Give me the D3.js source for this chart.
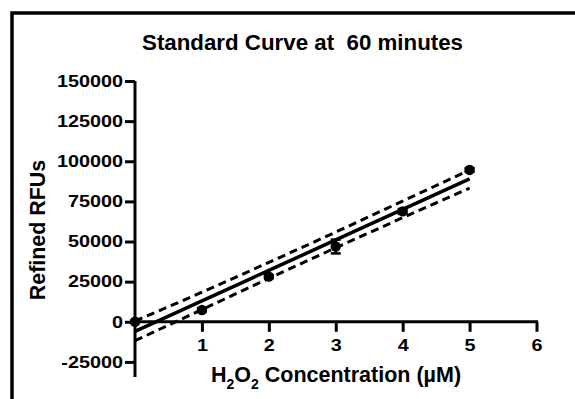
<!DOCTYPE html>
<html>
<head>
<meta charset="utf-8">
<script src="https://cdn.jsdelivr.net/npm/d3@7"></script>
<style>
  html, body { margin: 0; padding: 0; background: #fff; }
  svg { display: block; }
  text { font-family: "Liberation Sans", Arial, Helvetica, sans-serif; font-weight: bold; fill: #000; }
</style>
</head>
<body>
<svg id="chart" width="575" height="399"></svg>
<script>
// ---- data ----
const concentrations = [0, 1, 2, 3, 4, 5];            // H2O2 µM
const meanRFU        = [0, 7300, 28100, 46900, 68750, 94600];
const errRFU         = [800, 1200, 1000, 4300, 1500, 1200];
const fitLine        = [-6000, 13000, 32000, 51000, 70000, 89000];   // linear fit
const bandUpper      = [500, 18400, 37000, 55900, 75200, 94500];     // 95% band
const bandLower      = [-11800, 7600, 27000, 46100, 64800, 83200];
const xTicks = [1, 2, 3, 4, 5, 6];
const yTicks = [-25000, 0, 25000, 50000, 75000, 100000, 125000, 150000];
const titleText = "Standard Curve at  60 minutes";
const yLabel = "Refined RFUs";

const svg = d3.select("#chart");

// frame (top and left border)
svg.append("path").attr("d", "M12,399 L12,13 L575,13")
  .attr("fill", "none").attr("stroke", "#000").attr("stroke-width", 3.5);

const x = d3.scaleLinear().domain([0, 6]).range([135, 536.5]);
const y = d3.scaleLinear().domain([-34400, 150000]).range([377, 81]);

// title
svg.append("text").attr("x", 302.5).attr("y", 49.5).attr("text-anchor", "middle")
  .attr("font-size", 22).attr("textLength", 321).attr("lengthAdjust", "spacingAndGlyphs")
  .style("white-space", "pre").attr("xml:space", "preserve")
  .text(titleText);

// y axis
const yAxis = svg.append("g").attr("transform", `translate(${x(0)},0)`)
  .call(d3.axisLeft(y).tickValues(yTicks).tickFormat(d => String(d)).tickSize(10).tickPadding(2));
yAxis.select(".domain").attr("d", `M0,${y(150000)}V${y.range()[0]}`).attr("stroke-width", 3);
yAxis.selectAll(".tick line").attr("stroke-width", 3);
yAxis.selectAll(".tick text").attr("font-size", 16.5).attr("fill", "#000")
  .style("font-weight", "bold")
  .each(function () {
    const w = this.getComputedTextLength();
    d3.select(this).attr("textLength", w * 1.2).attr("lengthAdjust", "spacingAndGlyphs");
  });

// x axis
const xAxis = svg.append("g").attr("transform", `translate(0,${y(0)})`)
  .call(d3.axisBottom(x).tickValues(xTicks).tickFormat(d => String(d)).tickSize(10).tickPadding(8));
xAxis.select(".domain").attr("d", `M${x(0)},0H${x(6) + 1.5}`).attr("stroke-width", 3);
xAxis.selectAll(".tick line").attr("stroke-width", 3);
xAxis.selectAll(".tick text").attr("font-size", 16.5).attr("fill", "#000")
  .style("font-weight", "bold")
  .each(function () {
    const w = this.getComputedTextLength();
    d3.select(this).attr("textLength", w * 1.2).attr("lengthAdjust", "spacingAndGlyphs");
  });

// axis labels
svg.append("text").attr("transform", "translate(45,230) rotate(-90)")
  .attr("text-anchor", "middle").attr("font-size", 21.4).text(yLabel);

const xl = svg.append("text").attr("x", 336).attr("y", 382).attr("text-anchor", "middle")
  .attr("font-size", 21.5);
xl.append("tspan").text("H");
xl.append("tspan").attr("font-size", 14).attr("dy", 7).text("2");
xl.append("tspan").attr("dy", -7).text("O");
xl.append("tspan").attr("font-size", 14).attr("dy", 7).text("2");
xl.append("tspan").attr("dy", -7).text(" Concentration (\u00B5M)");

// plot layers
const plot = svg.append("g");
const lineGen = arr => d3.line().x((d, i) => x(concentrations[i])).y(d => y(d)).curve(d3.curveMonotoneX)(arr);

plot.append("path").attr("d", lineGen(bandUpper)).attr("fill", "none")
  .attr("stroke", "#000").attr("stroke-width", 3).attr("stroke-dasharray", "8,5");
plot.append("path").attr("d", lineGen(bandLower)).attr("fill", "none")
  .attr("stroke", "#000").attr("stroke-width", 3).attr("stroke-dasharray", "8,5");
plot.append("path").attr("d", lineGen(fitLine)).attr("fill", "none")
  .attr("stroke", "#000").attr("stroke-width", 3.5);

// error bars
const eb = plot.selectAll("g.eb").data(concentrations).join("g").attr("class", "eb");
eb.append("line").attr("x1", d => x(d)).attr("x2", d => x(d))
  .attr("y1", (d, i) => y(meanRFU[i] + errRFU[i])).attr("y2", (d, i) => y(meanRFU[i] - errRFU[i]))
  .attr("stroke", "#000").attr("stroke-width", 2.5);
eb.append("line").attr("x1", d => x(d) - 5).attr("x2", d => x(d) + 5)
  .attr("y1", (d, i) => y(meanRFU[i] - errRFU[i])).attr("y2", (d, i) => y(meanRFU[i] - errRFU[i]))
  .attr("stroke", "#000").attr("stroke-width", 2.5);
eb.append("line").attr("x1", d => x(d) - 5).attr("x2", d => x(d) + 5)
  .attr("y1", (d, i) => y(meanRFU[i] + errRFU[i])).attr("y2", (d, i) => y(meanRFU[i] + errRFU[i]))
  .attr("stroke", "#000").attr("stroke-width", 2.5);

// points
plot.selectAll("circle").data(concentrations).join("circle")
  .attr("cx", d => x(d)).attr("cy", (d, i) => y(meanRFU[i])).attr("r", 5.2).attr("fill", "#000");
</script>
</body>
</html>
